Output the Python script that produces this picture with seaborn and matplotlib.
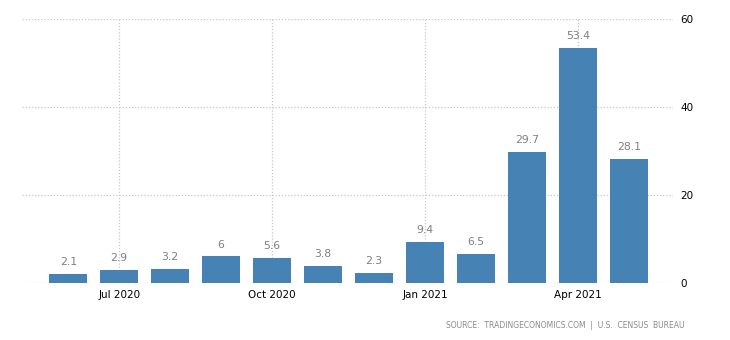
import matplotlib
matplotlib.use("Agg")
import matplotlib.pyplot as plt
import seaborn as sns
import pandas as pd

months = ["Jun 2020", "Jul 2020", "Aug 2020", "Sep 2020", "Oct 2020", "Nov 2020",
          "Dec 2020", "Jan 2021", "Feb 2021", "Mar 2021", "Apr 2021", "May 2021"]
values = [2.1, 2.9, 3.2, 6, 5.6, 3.8, 2.3, 9.4, 6.5, 29.7, 53.4, 28.1]
tick_labels = ["Jul 2020", "Oct 2020", "Jan 2021", "Apr 2021"]
y_ticks = [0, 20, 40, 60]
source_text = "SOURCE:  TRADINGECONOMICS.COM  |  U.S.  CENSUS  BUREAU"

sns.set_theme(style="white")
plt.rcParams["font.family"] = ["DejaVu Sans"]

df = pd.DataFrame({"month": months, "value": values})

fig = plt.figure(figsize=(7.3, 3.4), dpi=100)
ax = fig.add_axes([0.030, 0.168, 0.892, 0.776])

sns.barplot(data=df, x="month", y="value", color="#4682b4", saturation=1,
            width=0.74, linewidth=0, edgecolor="none", ax=ax, zorder=3)

ax.bar_label(ax.containers[0], labels=[f"{v:g}" for v in values],
             padding=5, fontsize=7.8, color="#7f7f7f")

ax.set_xlim(-0.91, 11.87)
ax.set_ylim(0, 60)
ax.set_yticks(y_ticks)
ax.yaxis.tick_right()
ax.tick_params(axis="y", length=0, pad=5, labelsize=7.5, labelcolor="#000000")

tick_pos = [months.index(t) for t in tick_labels]
ax.set_xticks(tick_pos)
ax.set_xticklabels(tick_labels)
ax.tick_params(axis="x", length=0, pad=5, labelsize=7.5, labelcolor="#000000")

ax.set_xlabel("")
ax.set_ylabel("")
for s in ax.spines.values():
    s.set_visible(False)

ax.grid(True, axis="both", linestyle=(0, (1, 1.5)), color="#c8c8c8", linewidth=0.9, zorder=0)
ax.set_axisbelow(True)

fig.text(0.937, 0.044, source_text, ha="right", va="center", fontsize=5.5,
         color="#8a8a8a")

fig.savefig("out.png", dpi=100)
